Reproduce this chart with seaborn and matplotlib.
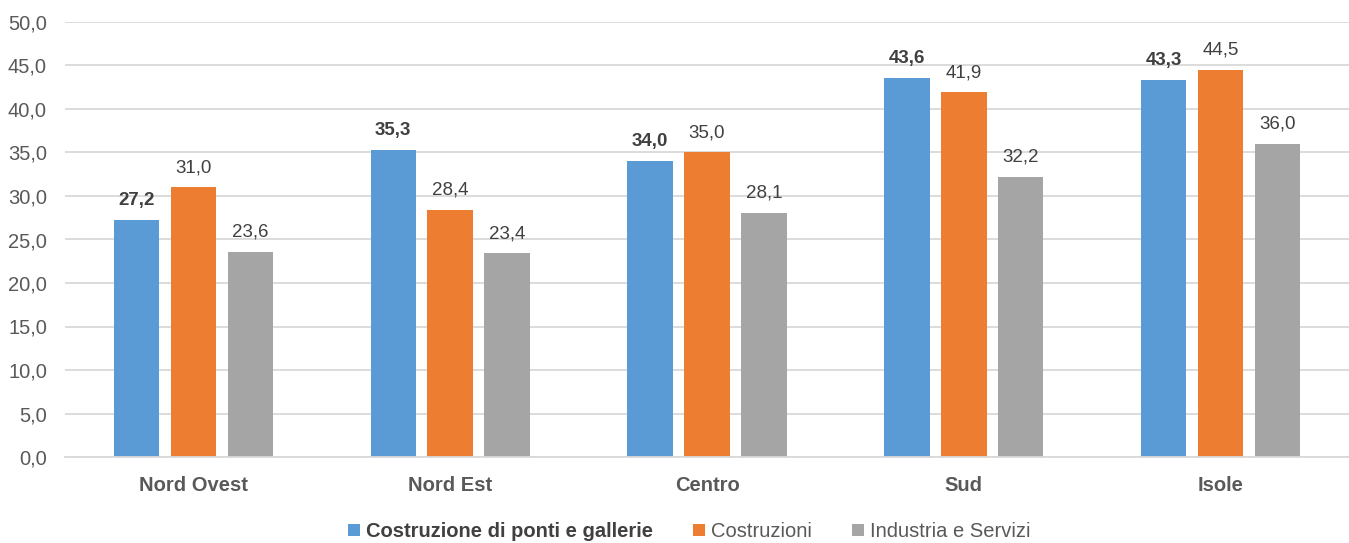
import matplotlib
matplotlib.use("Agg")
import matplotlib.pyplot as plt
from matplotlib.patches import Patch
import seaborn as sns
import pandas as pd

regions = ["Nord Ovest", "Nord Est", "Centro", "Sud", "Isole"]
series = ["Costruzione di ponti e gallerie", "Costruzioni", "Industria e Servizi"]
ponti = [27.2, 35.3, 34.0, 43.6, 43.3]
costruzioni = [31.0, 28.4, 35.0, 41.9, 44.5]
industria = [23.6, 23.4, 28.1, 32.2, 36.0]
yticks = [0, 5, 10, 15, 20, 25, 30, 35, 40, 45, 50]
colors = ["#5B9BD5", "#ED7D31", "#A5A5A5"]

rows = []
for s, vals in zip(series, [ponti, costruzioni, industria]):
    for r, v in zip(regions, vals):
        rows.append({"Regione": r, "Serie": s, "Valore": v})
df = pd.DataFrame(rows)

sns.set_theme(style="white")
plt.rcParams["font.family"] = ["Liberation Sans", "DejaVu Sans"]

fig = plt.figure(figsize=(13.49, 5.43), dpi=100)
ax = fig.add_axes([65 / 1349, 86 / 543, 1 - 65 / 1349, 435 / 543])

sns.barplot(data=df, x="Regione", y="Valore", hue="Serie", order=regions,
            hue_order=series, palette=dict(zip(series, colors)),
            width=0.665, gap=0.2, saturation=1, errorbar=None, ax=ax,
            legend=False, linewidth=0)

ax.set_ylim(0, 50)
ax.set_xlim(-0.5, 4.5)
ax.set_yticks(yticks)
ax.set_yticklabels([f"{t:.1f}".replace(".", ",") for t in yticks])
ax.yaxis.grid(True, color="#D9D9D9", linewidth=1.3)
ax.set_axisbelow(True)
for sp in ["top", "right", "left"]:
    ax.spines[sp].set_visible(False)
ax.spines["bottom"].set_color("#D9D9D9")
ax.spines["bottom"].set_linewidth(1.3)
ax.set_xlabel("")
ax.set_ylabel("")
ax.tick_params(axis="y", length=0, pad=13, labelsize=14.5, labelcolor="#595959")
ax.tick_params(axis="x", length=0, pad=14, labelsize=14.5, labelcolor="#595959")
for lbl in ax.get_xticklabels():
    lbl.set_fontweight("bold")

for i, cont in enumerate(ax.containers):
    vals = [ponti, costruzioni, industria][i]
    labels = [f"{v:.1f}".replace(".", ",") for v in vals]
    ax.bar_label(cont, labels=labels, padding=8, fontsize=13.5,
                 color="#404040", fontweight="bold" if i == 0 else "normal")

handles = [Patch(facecolor=c, edgecolor="none") for c in colors]
leg = fig.legend(handles, series, loc="lower center", bbox_to_anchor=(0.511, -0.03),
                 ncol=3, frameon=False, fontsize=14.5, handlelength=0.6,
                 handleheight=0.6, handletextpad=0.3, columnspacing=2.0)
for t in leg.get_texts():
    t.set_color("#595959")
leg.get_texts()[0].set_fontweight("bold")
leg.get_texts()[0].set_color("#404040")

fig.savefig("out.png", dpi=100)
